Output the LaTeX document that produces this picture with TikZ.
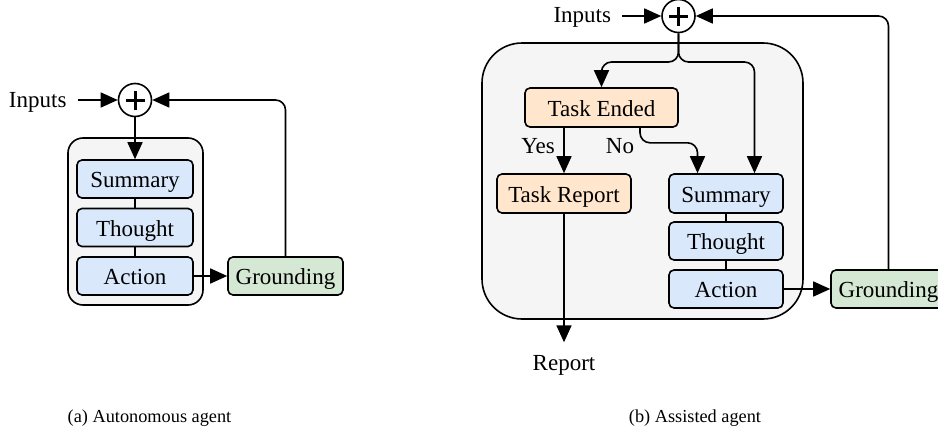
\documentclass[tikz,border=0pt]{standalone}
\usepackage{fontspec}
\setmainfont{Liberation Serif}
\usetikzlibrary{arrows.meta,calc}
\definecolor{bluefill}{HTML}{DAE8FC}
\definecolor{orangefill}{HTML}{FFE6CC}
\definecolor{greenfill}{HTML}{D5E8D4}
\definecolor{grayfill}{HTML}{F5F5F5}
\tikzset{
  lw/.style={line width=1.6pt},
  txt/.style={inner sep=0pt, font=\fontsize{23}{25}\selectfont, text height=16pt, text depth=5pt},
  box/.style={inner sep=0pt, font=\fontsize{23}{25}\selectfont, text height=19.5pt, text depth=2pt,
    lw, draw=black, rounded corners=5pt, minimum width=116pt, minimum height=38pt},
  bluebox/.style={box, fill=bluefill},
  orangebox/.style={box, fill=orangefill},
  greenbox/.style={box, fill=greenfill},
  outerbox/.style={lw, draw=black, fill=grayfill, inner sep=0pt},
  lbl/.style={txt},
  captxt/.style={inner sep=0pt, font=\fontsize{18.3}{20}\selectfont, text height=13pt, text depth=4pt},
  sumcircle/.style={lw, draw=black, fill=white, circle, minimum size=33pt, inner sep=0pt,
    path picture={
      \draw[line width=3pt] ([xshift=-9.5pt]path picture bounding box.center) -- ([xshift=9.5pt]path picture bounding box.center);
      \draw[line width=3pt] ([yshift=-9.5pt]path picture bounding box.center) -- ([yshift=9.5pt]path picture bounding box.center);
    }},
  arr/.style={lw, -{Triangle[length=17pt,width=15pt]}},
  conn/.style={lw},
}
\begin{document}
\begin{tikzpicture}[x=1pt,y=-1pt]
\useasboundingbox (0,0) rectangle (938,431);

% ---------- (a) Autonomous agent ----------
\node[outerbox, rounded corners=15pt, minimum width=135pt, minimum height=167pt] (oA) at (135.5,221.5) {};
\node[sumcircle] (cA) at (135,100) {};
\coordinate (inAs) at ([xshift=-40pt]cA.west);
\node[lbl, anchor=east] (inA) at ([xshift=-11pt,yshift=-1.5pt]inAs) {Inputs};
\node[bluebox] (sumA) at (135,179) {Summary};
\node[bluebox] (thoA) at (135,227.5) {Thought};
\node[bluebox] (actA) at (135,276) {Action};
\node[greenbox, minimum width=115pt] (grA) at (285.5,276) {Grounding};

\draw[arr] (inAs) -- (cA.west);
\draw[arr] (cA.south) -- (sumA.north);
\draw[conn] (sumA.south) -- (thoA.north);
\draw[conn] (thoA.south) -- (actA.north);
\draw[arr] (actA.east) -- (grA.west);
\draw[arr, rounded corners=10pt] (grA.north) |- (cA.east);

\node[captxt] (capA) at (149.5,418) {(a) Autonomous agent};

% ---------- (b) Assisted agent ----------
\node[outerbox, rounded corners=40pt, minimum width=321pt, minimum height=276pt] (oB) at (642.5,181) {};
\node[sumcircle] (cB) at (678.5,16) {};
\coordinate (inBs) at ([xshift=-39pt]cB.west);
\node[lbl, anchor=east] (inB) at ([xshift=-11pt,yshift=-1.5pt]inBs) {Inputs};
\node[orangebox, minimum width=153pt, minimum height=39pt] (teB) at (601.5,107.5) {Task Ended};
\node[orangebox, minimum width=134pt, minimum height=39pt] (trB) at (564,193.5) {Task Report};
\node[bluebox, minimum width=114pt, minimum height=39pt] (sumB) at (726,193.5) {Summary};
\node[bluebox, minimum width=114pt] (thoB) at (726,241) {Thought};
\node[bluebox, minimum width=114pt] (actB) at (726,289) {Action};
\node[greenbox, minimum width=115pt] (grB) at (888.5,289) {Grounding};
\node[lbl] (rep) at (564,365) {Report};
\node[lbl] (yes) at (538,148) {Yes};
\node[lbl] (no) at (620,148) {No};

\coordinate (split) at (678.5,62);
\coordinate (sumR) at ([xshift=28.5pt]sumB.north);
\coordinate (sumL) at ([xshift=-28.5pt]sumB.north);
\coordinate (teNo) at ([xshift=38.5pt]teB.south);
\coordinate (noMid) at ($(teNo)+(0,15)$);

\draw[arr] (inBs) -- (cB.west);
\draw[arr, rounded corners=10pt] (cB.south) -- (split) -| (teB.north);
\draw[arr, rounded corners=10pt] (cB.south) -- (split) -| (sumR);
\draw[arr] (teB.south -| trB.north) -- (trB.north);
\draw[arr, rounded corners=10pt] (teNo) -- (noMid) -| (sumL);
\draw[conn] (sumB.south) -- (thoB.north);
\draw[conn] (thoB.south) -- (actB.north);
\draw[arr] (actB.east) -- (grB.west);
\draw[arr, rounded corners=10pt] (grB.north) |- (cB.east);
\draw[arr, shorten >=12pt] (trB.south) -- (rep.north);

\node[captxt] (capB) at (695,418) {(b) Assisted agent};
\end{tikzpicture}
\end{document}
